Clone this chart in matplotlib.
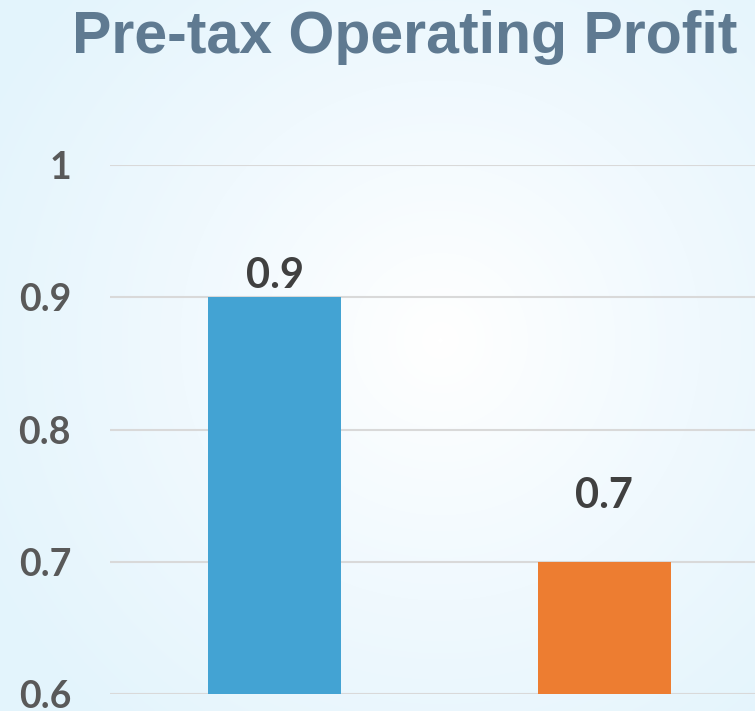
import matplotlib.pyplot as plt
import numpy as np
from matplotlib.colors import LinearSegmentedColormap

categories = ["A", "B"]
values = [0.9, 0.7]
bar_colors = ["#43a3d3", "#ed7d31"]
yticks = [0.6, 0.7, 0.8, 0.9, 1.0]
ytick_labels = ["0.6", "0.7", "0.8", "0.9", "1"]
label_gap_pt = [7, 39]  # data labels sit at different heights above the bars

W, H = 755, 711
fig = plt.figure(figsize=(W / 100, H / 100), dpi=100)

# radial gradient background
bg = fig.add_axes([0, 0, 1, 1])
yy, xx = np.mgrid[0:H, 0:W]
r = np.sqrt(((xx - 440) / 520.0) ** 2 + ((yy - 340) / 520.0) ** 2)
cmap = LinearSegmentedColormap.from_list("bg", ["#ffffff", "#f0f9fe", "#e3f4fc"])
bg.imshow(np.clip(r, 0, 1), cmap=cmap, vmin=0, vmax=1, aspect="auto")
bg.axis("off")

ax = fig.add_axes([110 / W, (H - 694) / H, (W - 110) / W, (694 - 165) / H])
ax.patch.set_alpha(0)
x = np.arange(len(categories))
ax.bar(x, values, width=0.404, color=bar_colors, zorder=3)
ax.set_xlim(-0.5, 1.457)
ax.set_ylim(0.6, 1.0)
ax.set_yticks(yticks)
ax.set_yticklabels(ytick_labels)
ax.set_xticks([])
ax.yaxis.grid(True, color="#d9d9d9", linewidth=1.5, zorder=0)
ax.tick_params(axis="y", length=0, pad=28, labelsize=27, labelcolor="#595959")
for lab in ax.get_yticklabels():
    lab.set_fontweight("bold")
    lab.set_family("Lato")
for s in ax.spines.values():
    s.set_visible(False)

for xi, v, g in zip(x, values, label_gap_pt):
    ax.annotate(f"{v:g}", (xi, v), xytext=(0, g), textcoords="offset points",
                ha="center", va="baseline", fontsize=30, fontweight="bold",
                color="#404040", family="Lato")

fig.text(405 / W, 1 - 53 / H, "Pre-tax Operating Profit", ha="center", va="baseline",
         fontsize=42.5, fontweight="bold", color="#5f7a91", family="Liberation Sans")

fig.savefig("out.png", dpi=100)
